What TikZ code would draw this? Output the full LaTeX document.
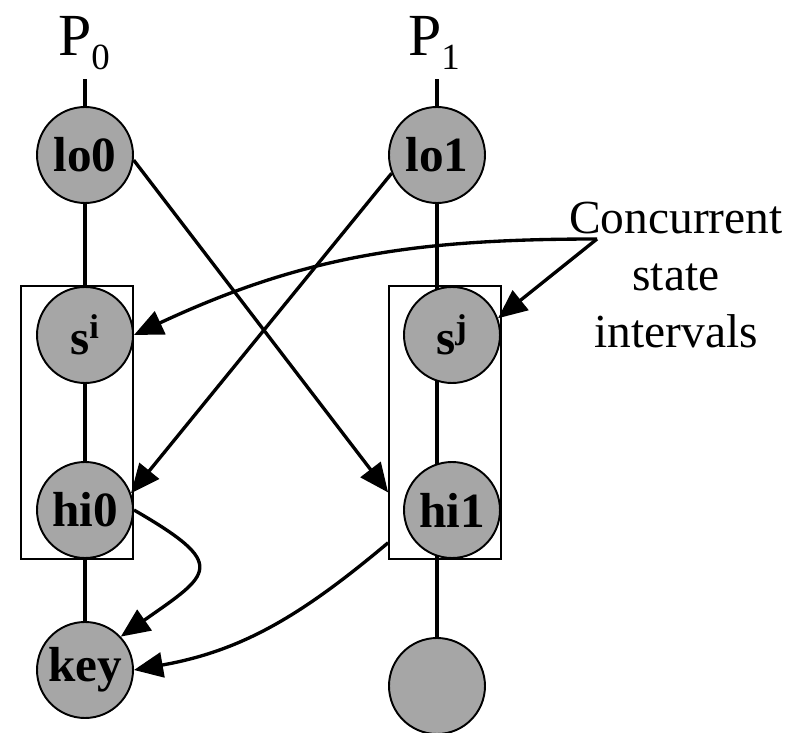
\documentclass[tikz,border=0pt]{standalone}
\usepackage{fontspec}
\setmainfont{Liberation Serif}
\usetikzlibrary{arrows.meta,backgrounds}
\definecolor{stategray}{RGB}{166,166,166}

\begin{document}
\begin{tikzpicture}[->,>={Triangle[length=0.58cm,width=0.5cm]},line width=1.9pt]
  \tikzstyle{state}=[circle,draw,fill=stategray,line width=1.1pt,minimum size=1.92cm,inner sep=0pt,font=\fontsize{28}{32}\selectfont\bfseries]
  \tikzstyle{interval}=[draw,line width=1pt,inner sep=0pt]
  \tikzstyle{proc}=[font=\fontsize{34}{40}\selectfont,inner sep=0pt,anchor=base]

  \useasboundingbox (0,0) rectangle (15.98,-14.66);

  \node[proc] (p0) at (1.68,-1.1) {P\raisebox{-8.5pt}{\fontsize{21}{24}\selectfont 0}};
  \node[proc] (p1) at (8.68,-1.1) {P\raisebox{-8.5pt}{\fontsize{21}{24}\selectfont 1}};
  \coordinate (top0) at (1.7,-1.58);
  \coordinate (top1) at (8.74,-1.58);

  \node[interval,minimum width=2.24cm,minimum height=5.46cm] (box0) at (1.54,-8.45) {};
  \node[interval,minimum width=2.24cm,minimum height=5.46cm] (box1) at (8.9,-8.45) {};

  \node[state] (lo0) at (1.7,-3.1) {lo0};
  \node[state] (si) at (1.7,-6.7) {s\textsuperscript{i}};
  \node[state] (hi0) at (1.7,-10.2) {hi0};
  \node[state] (key) at (1.7,-13.4) {key};

  \node[state] (lo1) at (8.74,-3.1) {lo1};
  \node[state] (sj) at (9.04,-6.7) {s\textsuperscript{j}};
  \node[state] (hi1) at (9.04,-10.2) {hi1};
  \node[state] (end1) at (8.74,-13.72) {};

  \node[align=center,anchor=north,inner sep=0pt,font=\fontsize{27}{32.5}\selectfont] (note) at (13.52,-4.0) {Concurrent\\state\\intervals};
  \coordinate (src) at (11.94,-4.78);

  \begin{scope}[on background layer]
    \draw[-,line width=1.9pt] (top0) -- (key);
    \draw[-,line width=1.9pt] (top1) -- (end1);
  \end{scope}

  \draw (lo0.-6) -- (box1.west |- hi1.159);
  \draw (lo1.202) -- (hi0.20);
  \draw (src) to[out=180,in=25] (si.east);
  \draw (src) -- (sj.20);
  \draw (hi0.east) .. controls +(-30:2.2) and +(35:2.2) .. (key.43);
  \draw (box1.west |- hi1.-138) to[out=220,in=10] (key.east);

\end{tikzpicture}
\end{document}
